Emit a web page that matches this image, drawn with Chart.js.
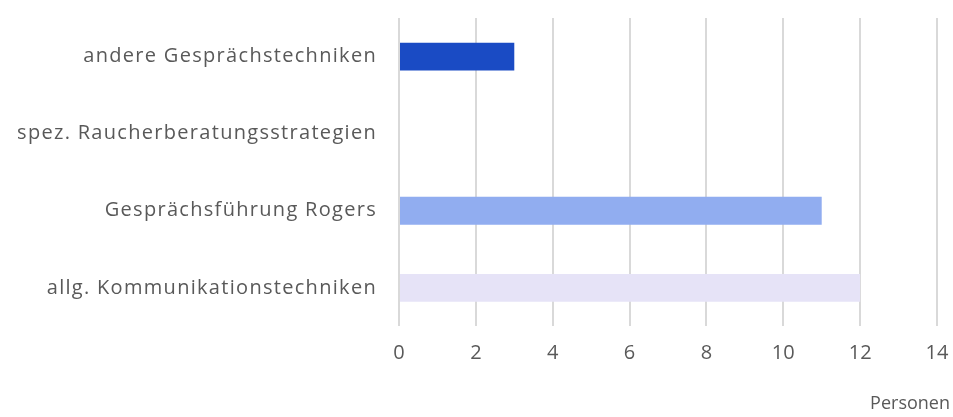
<!DOCTYPE html>
<html>
<head>
<meta charset="utf-8">
<script src="https://cdn.jsdelivr.net/npm/chart.js@4/dist/chart.umd.min.js"></script>
<style>
  html, body { margin: 0; padding: 0; background: #ffffff; }
  #wrap { width: 953px; height: 417px; position: relative; }
</style>
</head>
<body>
<div id="wrap"><canvas id="c" width="953" height="417"></canvas></div>
<script>
const categories = [
  "andere Gesprächstechniken",
  "spez. Raucherberatungsstrategien",
  "Gesprächsführung Rogers",
  "allg. Kommunikationstechniken"
];
const values = [3, 0, 11, 12];
const barColors = ["#1a4bc4", "#1a4bc4", "#91adf0", "#e6e3f7"];
const xTicks = [0, 2, 4, 6, 8, 10, 12, 14];
const axisTitle = "Personen";

const textColor = "#595959";
const fontFamily = "'Open Sans', Lato, sans-serif";

// widen the category labels slightly (reference font is wider)
const spacingPlugin = {
  id: "labelSpacing",
  beforeDraw(chart) {
    const s = chart.scales.y;
    if (s && !s._spacingPatched) {
      const orig = s.drawLabels;
      s.drawLabels = function (area) {
        const ctx = this.ctx;
        ctx.save();
        ctx.letterSpacing = "1.3px";
        orig.call(this, area);
        ctx.restore();
      };
      s._spacingPatched = true;
    }
  }
};

new Chart(document.getElementById("c"), {
  type: "bar",
  data: {
    labels: categories,
    datasets: [{
      data: values,
      backgroundColor: barColors,
      borderWidth: 0,
      categoryPercentage: 1.0,
      barPercentage: 0.36
    }]
  },
  plugins: [spacingPlugin],
  options: {
    indexAxis: "y",
    responsive: false,
    animation: false,
    devicePixelRatio: 1,
    layout: { padding: { top: 18, right: 3, bottom: 2, left: 0 } },
    plugins: {
      legend: { display: false },
      tooltip: { enabled: false },
      title: {
        display: true,
        text: axisTitle,
        position: "bottom",
        align: "end",
        color: textColor,
        font: { family: fontFamily, size: 18, weight: "normal" },
        padding: 0
      }
    },
    scales: {
      x: {
        min: 0,
        max: 14,
        afterBuildTicks: (s) => { s.ticks = xTicks.map(v => ({ value: v })); },
        grid: { color: "#d9d9d9", lineWidth: 2, drawTicks: false },
        border: { display: false },
        ticks: { color: textColor, font: { family: fontFamily, size: 20 }, padding: 15 },
        afterFit: (s) => { s.height = 67; s.paddingLeft = 0; s.paddingRight = 16; }
      },
      y: {
        grid: { display: false, drawTicks: false },
        border: { display: false },
        ticks: { color: textColor, font: { family: fontFamily, size: 20 }, padding: 22 },
        afterFit: (s) => { s.width = 399; s.paddingTop = 0; s.paddingBottom = 0; }
      }
    }
  }
});
</script>
</body>
</html>
